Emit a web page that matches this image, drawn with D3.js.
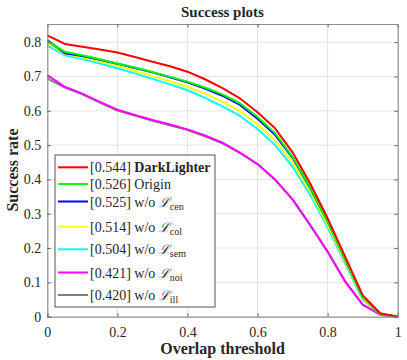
<!DOCTYPE html>
<meta charset="utf-8">
<style>
	body { margin: 0; background: #fff; }
	text { font-family: "Liberation Serif", "Times New Roman", serif; fill: #262626; }
	.grid line { stroke: #e3e3e3; stroke-width: 1; }
	.curve { fill: none; stroke-width: 2; stroke-linejoin: round; }
</style>
<svg width="407" height="360"></svg>
<script src="https://d3js.org/d3.v7.min.js"></script>
<script>

	var thresholds = d3.range(0, 21).map(function (i) { return i / 20; });

	var darkLighter = [0.820, 0.795, 0.787, 0.779, 0.770, 0.757, 0.743, 0.730, 0.714, 0.692, 0.666, 0.636, 0.596, 0.549, 0.479, 0.389, 0.287, 0.175, 0.063, 0.010, 0];
	var origin = [0.803, 0.772, 0.762, 0.750, 0.738, 0.726, 0.713, 0.699, 0.685, 0.668, 0.648, 0.622, 0.582, 0.535, 0.466, 0.378, 0.278, 0.168, 0.058, 0.008, 0];
	var woCen = [0.806, 0.768, 0.760, 0.749, 0.737, 0.725, 0.712, 0.698, 0.683, 0.665, 0.644, 0.617, 0.577, 0.530, 0.463, 0.376, 0.277, 0.167, 0.058, 0.008, 0];
	var woCol = [0.798, 0.766, 0.756, 0.744, 0.731, 0.716, 0.701, 0.686, 0.670, 0.650, 0.627, 0.599, 0.560, 0.513, 0.449, 0.365, 0.268, 0.160, 0.054, 0.008, 0];
	var woSem = [0.790, 0.762, 0.751, 0.738, 0.724, 0.709, 0.693, 0.677, 0.660, 0.638, 0.613, 0.585, 0.547, 0.500, 0.437, 0.355, 0.260, 0.155, 0.050, 0.007, 0];
	var woNoi = [0.704, 0.670, 0.650, 0.626, 0.603, 0.588, 0.573, 0.560, 0.546, 0.528, 0.507, 0.478, 0.445, 0.400, 0.342, 0.268, 0.190, 0.103, 0.035, 0.006, 0];
	var woIll = [0.694, 0.668, 0.648, 0.624, 0.601, 0.586, 0.571, 0.558, 0.544, 0.526, 0.505, 0.477, 0.444, 0.399, 0.341, 0.267, 0.189, 0.102, 0.035, 0.006, 0];

	var scores = ["0.544", "0.526", "0.525", "0.514", "0.504", "0.421", "0.420"];
	var names = ["DarkLighter", "Origin", "w/o", "w/o", "w/o", "w/o", "w/o"];
	var subs = [null, null, "cen", "col", "sem", "noi", "ill"];
	var colors = ["#ff0000", "#00ff00", "#0000ff", "#ffff00", "#00ffff", "#ff00ff", "#808080"];
	var seriesData = [darkLighter, origin, woCen, woCol, woSem, woNoi, woIll];

	var xTicks = [0, 0.2, 0.4, 0.6, 0.8, 1];
	var yTicks = [0, 0.1, 0.2, 0.3, 0.4, 0.5, 0.6, 0.7, 0.8];

	var svg = d3.select("svg");

	var x = d3.scaleLinear().domain([0, 1]).range([47.3, 397.7]);
	var y = d3.scaleLinear().domain([0, 0.853]).range([316.7, 24]);

	// grid
	var grid = svg.append("g").attr("class", "grid");
	grid.selectAll(".gx").data(xTicks.slice(1, -1)).enter().append("line")
		.attr("x1", function (d) { return x(d); }).attr("x2", function (d) { return x(d); })
		.attr("y1", y.range()[0]).attr("y2", y.range()[1]);
	grid.selectAll(".gy").data(yTicks.slice(1)).enter().append("line")
		.attr("y1", function (d) { return y(d); }).attr("y2", function (d) { return y(d); })
		.attr("x1", x.range()[0]).attr("x2", x.range()[1]);

	// curves, last legend entry drawn first
	var line = d3.line()
		.x(function (d, i) { return x(thresholds[i]); })
		.y(function (d) { return y(d); });

	svg.append("g").selectAll("path")
		.data(d3.range(seriesData.length).reverse())
		.enter().append("path")
		.attr("class", "curve")
		.attr("stroke", function (i) { return colors[i]; })
		.attr("d", function (i) { return line(seriesData[i]); });

	// axes with inward ticks, box on
	var tickLen = -3.5;
	svg.append("g")
		.attr("transform", "translate(0," + y.range()[0] + ")")
		.call(d3.axisBottom(x).tickValues(xTicks).tickSize(tickLen).tickPadding(10).tickFormat(d3.format("")))
		.call(styleAxis);
	svg.append("g")
		.attr("transform", "translate(0," + y.range()[1] + ")")
		.call(d3.axisTop(x).tickValues(xTicks).tickSize(tickLen).tickFormat(""))
		.call(styleAxis);
	svg.append("g")
		.attr("transform", "translate(" + x.range()[0] + ",0)")
		.call(d3.axisLeft(y).tickValues(yTicks).tickSize(tickLen).tickPadding(6).tickFormat(d3.format("")))
		.call(styleAxis);
	svg.append("g")
		.attr("transform", "translate(" + x.range()[1] + ",0)")
		.call(d3.axisRight(y).tickValues(yTicks).tickSize(tickLen).tickFormat(""))
		.call(styleAxis);

	function styleAxis(g) {
		g.attr("font-family", "Liberation Serif");
		g.select(".domain").attr("stroke", "#8c8c8c").attr("stroke-width", 1.2);
		g.selectAll(".tick line").attr("stroke", "#666");
		g.selectAll(".tick text")
			.attr("fill", "#262626")
			.style("font-family", "'Liberation Serif', serif")
			.style("font-size", "14px");
	}

	// titles
	svg.append("text")
		.attr("x", 222.5).attr("y", 17)
		.attr("text-anchor", "middle")
		.style("font-weight", "bold").style("font-size", "15px")
		.text("Success plots");
	svg.append("text")
		.attr("x", 222.5).attr("y", 354)
		.attr("text-anchor", "middle")
		.style("font-weight", "bold").style("font-size", "16px")
		.text("Overlap threshold");
	svg.append("text")
		.attr("transform", "translate(18,170) rotate(-90)")
		.attr("text-anchor", "middle")
		.style("font-weight", "bold").style("font-size", "16px")
		.text("Success rate");

	// legend
	var rowY = [167.3, 184, 201.5, 226.7, 249.3, 272.5, 295];
	var legend = svg.append("g");
	legend.append("rect")
		.attr("x", 55).attr("y", 155).attr("width", 160).attr("height", 152)
		.attr("fill", "#fff").attr("stroke", "#555").attr("stroke-width", 1);

	var rows = legend.selectAll(".row").data(d3.range(scores.length)).enter().append("g")
		.attr("transform", function (i) { return "translate(0," + rowY[i] + ")"; });
	rows.append("line")
		.attr("x1", 58).attr("x2", 88)
		.attr("stroke", function (i) { return colors[i]; })
		.attr("stroke-width", 2);
	var label = rows.append("text")
		.attr("x", 90).attr("y", 5)
		.style("font-size", "14px");
	label.append("tspan").text(function (i) { return "[" + scores[i] + "] "; });
	label.append("tspan")
		.style("font-weight", function (i) { return i === 0 ? "bold" : "normal"; })
		.text(function (i) { return subs[i] ? names[i] + " " : names[i]; });
	label.filter(function (i) { return subs[i]; }).append("tspan")
		.style("font-family", "'DejaVu Serif', serif")
		.style("font-style", "italic")
		.style("font-size", "13px")
		.text("\u2112");
	label.filter(function (i) { return subs[i]; }).append("tspan")
		.attr("dy", 3)
		.style("font-size", "10px")
		.text(function (i) { return subs[i]; });

</script>
